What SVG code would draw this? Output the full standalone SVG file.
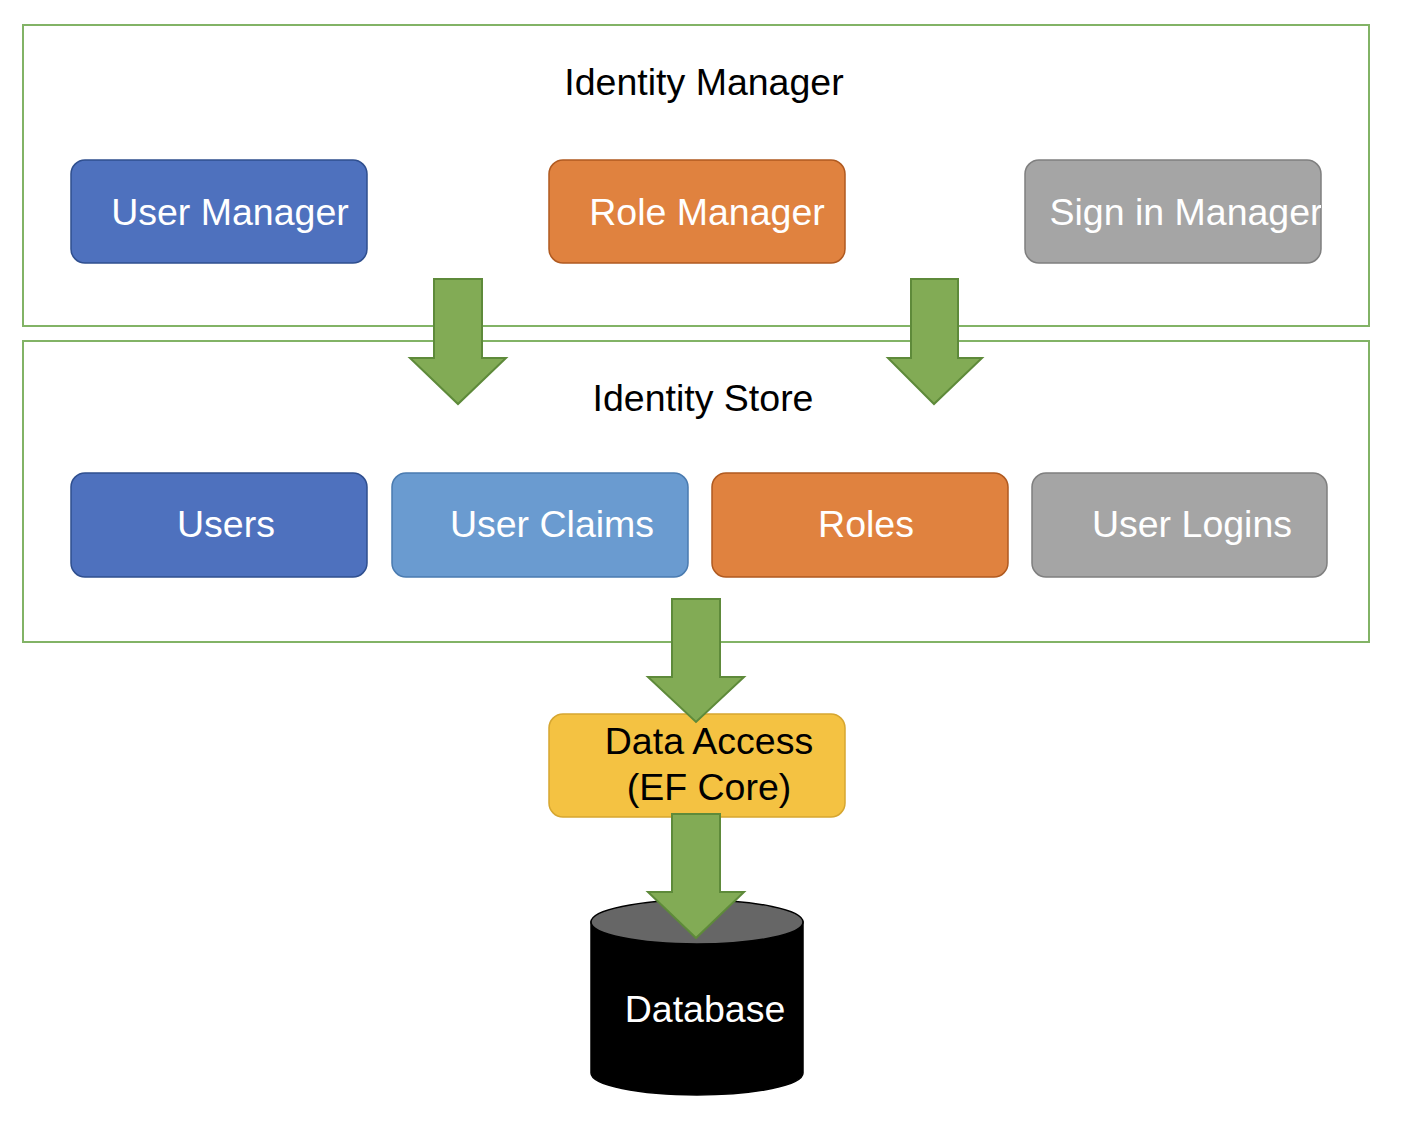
<svg xmlns="http://www.w3.org/2000/svg" width="1420" height="1138" viewBox="0 0 1420 1138">
<style>
text{font-family:"Liberation Sans",Arial,sans-serif;font-size:37.5px;text-anchor:middle}
.cont{fill:#fff;stroke:#82b366;stroke-width:2}
.box{stroke-width:1.5}
.blue{fill:#4e71be;stroke:#2f4f8f}
.lblue{fill:#6a9bd0;stroke:#4a7bb0}
.orange{fill:#e0823f;stroke:#b05a20}
.gray{fill:#a5a5a5;stroke:#7f7f7f}
.yellow{fill:#f4c242;stroke:#d6a630}
.w{fill:#fff}
.k{fill:#000}
.arrow{fill:#82ab55;stroke:#5e8a3a;stroke-width:2}
</style>
<defs>
<clipPath id="clipSign"><rect x="1025" y="160" width="296" height="103" rx="14"/></clipPath>
</defs>
<rect width="1420" height="1138" fill="#fff"/>
<g id="identity-manager">
<rect class="cont" x="23" y="25" width="1346" height="301"/>
<text class="k" x="704" y="95">Identity Manager</text>
</g>
<g id="identity-store">
<rect class="cont" x="23" y="341" width="1346" height="301"/>
<text class="k" x="703" y="411">Identity Store</text>
</g>
<g id="user-manager">
<rect class="box blue" x="71" y="160" width="296" height="103" rx="14"/>
<text class="w" x="230" y="225">User Manager</text>
</g>
<g id="role-manager">
<rect class="box orange" x="549" y="160" width="296" height="103" rx="14"/>
<text class="w" x="707" y="225">Role Manager</text>
</g>
<g id="sign-in-manager">
<rect class="box gray" x="1025" y="160" width="296" height="103" rx="14"/>
<text class="w" x="1186" y="225" clip-path="url(#clipSign)">Sign in Manager</text>
</g>
<g id="users">
<rect class="box blue" x="71" y="473" width="296" height="104" rx="14"/>
<text class="w" x="226" y="537">Users</text>
</g>
<g id="user-claims">
<rect class="box lblue" x="392" y="473" width="296" height="104" rx="14"/>
<text class="w" x="552" y="537">User Claims</text>
</g>
<g id="roles">
<rect class="box orange" x="712" y="473" width="296" height="104" rx="14"/>
<text class="w" x="866" y="537">Roles</text>
</g>
<g id="user-logins">
<rect class="box gray" x="1032" y="473" width="295" height="104" rx="14"/>
<text class="w" x="1192" y="537">User Logins</text>
</g>
<g id="data-access">
<rect class="box yellow" x="549" y="714" width="296" height="103" rx="14"/>
<text class="k" x="709" y="754">Data Access</text>
<text class="k" x="709" y="800">(EF Core)</text>
</g>
<g id="database">
<path d="M591 922 L591 1073 A106 22 0 0 0 803 1073 L803 922 Z" fill="#000" stroke="#000" stroke-width="1.5"/>
<ellipse cx="697" cy="922" rx="106" ry="22" fill="#666" stroke="#000" stroke-width="1.5"/>
<text class="w" x="705" y="1022">Database</text>
</g>
<g id="connectors">
<polygon class="arrow" points="434,279 482,279 482,358 506,358 458,404 410,358 434,358"/>
<polygon class="arrow" points="911,279 958,279 958,358 982,358 934,404 888,358 911,358"/>
<polygon class="arrow" points="672,599 720,599 720,677 744,677 696,722 648,677 672,677"/>
<polygon class="arrow" points="672,814 720,814 720,892 744,892 696,938 648,892 672,892"/>
</g>
</svg>
